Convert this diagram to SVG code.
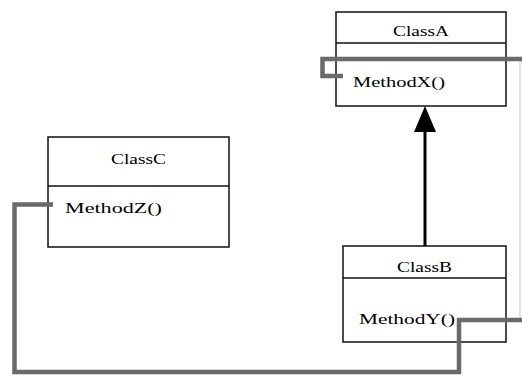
<svg xmlns="http://www.w3.org/2000/svg" width="522" height="376" viewBox="0 0 522 376">
<style>
.box{fill:#fff;stroke:#111;stroke-width:1.5}
.div{stroke:#111;stroke-width:1.5}
.t{font-family:"Liberation Serif","Times New Roman",serif;font-size:15px;fill:#000}
.c{fill:none;stroke:#6a6a6a;stroke-width:4.5;stroke-linejoin:miter}
.thin{fill:none;stroke:#c4c4c4;stroke-width:1}
</style>
<rect width="522" height="376" fill="#fff"/>
<g id="ClassA">
<rect class="box" x="336" y="12" width="170" height="94"/>
<line class="div" x1="336" y1="43" x2="506" y2="43"/>
<text class="t" x="421" y="36" text-anchor="middle" textLength="56" lengthAdjust="spacingAndGlyphs">ClassA</text>
<text class="t" x="353" y="87" textLength="92" lengthAdjust="spacingAndGlyphs">MethodX()</text>
</g>
<g id="ClassB">
<rect class="box" x="343" y="246" width="163" height="96"/>
<line class="div" x1="343" y1="278" x2="506" y2="278"/>
<text class="t" x="424.5" y="272" text-anchor="middle" textLength="55" lengthAdjust="spacingAndGlyphs">ClassB</text>
<text class="t" x="359" y="324" textLength="96" lengthAdjust="spacingAndGlyphs">MethodY()</text>
</g>
<g id="ClassC">
<rect class="box" x="48" y="137" width="181" height="110"/>
<line class="div" x1="48" y1="186" x2="229" y2="186"/>
<text class="t" x="138.5" y="164" text-anchor="middle" textLength="55" lengthAdjust="spacingAndGlyphs">ClassC</text>
<text class="t" x="65" y="213" textLength="97" lengthAdjust="spacingAndGlyphs">MethodZ()</text>
</g>
<g id="connectors">
<line class="thin" x1="520" y1="59" x2="520" y2="320"/>
<polyline class="c" points="343,76 322.5,76 322.5,59 522,59"/>
<polyline class="c" points="522,320 459,320 459,372 14.5,372 14.5,204.5 53,204.5"/>
<line x1="425" y1="246" x2="425" y2="130" stroke="#000" stroke-width="3"/>
<polygon points="425,106 414,132 436,132" fill="#000"/>
</g>
</svg>
